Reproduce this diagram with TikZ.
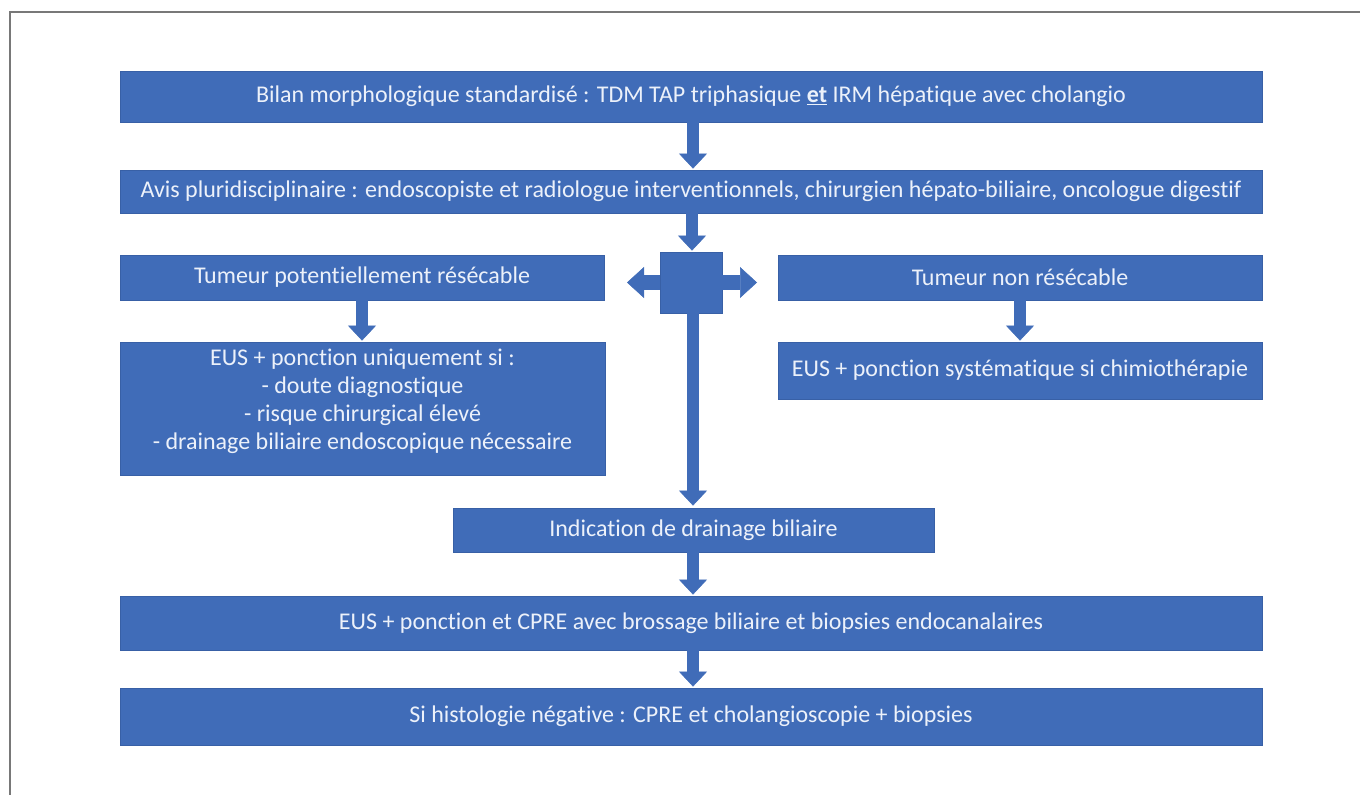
\documentclass[tikz,border=0pt]{standalone}
\usepackage{fontspec}
\setmainfont{Carlito}[Ligatures=NoCommon]
\usetikzlibrary{arrows.meta,calc}
\definecolor{boxblue}{RGB}{64,108,184}
\definecolor{boxedge}{RGB}{56,96,166}
\definecolor{txt}{RGB}{236,241,250}
\definecolor{framegray}{RGB}{120,120,120}
\begin{document}
\begin{tikzpicture}[x=1pt,y=-1pt,
  box/.style={fill=boxblue, draw=boxedge, line width=0.8pt, text=txt,
    font=\fontsize{24}{28}\selectfont, inner sep=0pt, align=center},
  blockarrow/.style={draw=boxblue, line width=12pt,
    -{Triangle[width=28pt,length=15pt,line width=0.5pt]}},
  hubarrow/.style={draw=boxblue, line width=15pt,
    -{Triangle[width=31pt,length=17pt,line width=0.5pt]}}]
\useasboundingbox (0,0) rectangle (1360,795);
\draw[framegray, line width=2pt] (1362,12) -- (10,12) -- (10,797);

\node[box, minimum width=1142pt, minimum height=51pt] (top) at (691,96.5)
  {Bilan morphologique standardisé : TDM TAP triphasique \textbf{\underline{et}} IRM hépatique avec cholangio};
\node[box, minimum width=1142pt, minimum height=43pt] (avis) at (691,191.5)
  {Avis pluridisciplinaire : endoscopiste et radiologue interventionnels, chirurgien hépato-biliaire, oncologue digestif};
\node[box, minimum width=484pt, minimum height=45pt] (tpr) at (362,277.5)
  {Tumeur potentiellement résécable};
\node[box, minimum width=484pt, minimum height=45pt] (tnr) at (1020,277.5)
  {Tumeur non résécable};
\node[box, minimum width=62pt, minimum height=61pt] (hub) at (691,282.5) {};
\node[box, minimum width=485pt, minimum height=133pt, text depth=19pt] (eusL) at (362.5,408.5)
  {EUS + ponction uniquement si :\\- doute diagnostique\\- risque chirurgical élevé\\- drainage biliaire endoscopique nécessaire};
\node[box, minimum width=484pt, minimum height=57pt] (eusR) at (1020,370.5)
  {EUS + ponction systématique si chimiothérapie};
\node[box, minimum width=481pt, minimum height=44pt] (ind) at (693.5,530)
  {Indication de drainage biliaire};
\node[box, minimum width=1142pt, minimum height=54pt] (eusC) at (691,623)
  {EUS + ponction et CPRE avec brossage biliaire et biopsies endocanalaires};
\node[box, minimum width=1142pt, minimum height=57pt] (hist) at (691,716.5)
  {Si histologie négative : CPRE et cholangioscopie + biopsies};

\coordinate (ltip) at (627,282.5);
\coordinate (rtip) at (757,282.5);

\draw[blockarrow] ($(top.south)+(2,0)$) -- ($(avis.north)+(2,-1)$);
\draw[blockarrow] ($(avis.south)+(1,0)$) -- ($(hub.north)+(1,-1)$);
\draw[blockarrow] (tpr.south) -- ($(eusL.north)+(-0.5,-1)$);
\draw[blockarrow] (tnr.south) -- ($(eusR.north)+(0,-1)$);
\draw[hubarrow] (hub.west) -- (ltip);
\draw[hubarrow] (hub.east) -- (rtip);
\draw[blockarrow] ($(hub.south)+(2,0)$) -- ($(hub.south |- ind.north)+(2,-2)$);
\draw[blockarrow] ($(ind.south)+(-0.5,0)$) -- ($(eusC.north)+(2,-1)$);
\draw[blockarrow] ($(eusC.south)+(2,0)$) -- ($(hist.north)+(2,-1)$);
\end{tikzpicture}
\end{document}
